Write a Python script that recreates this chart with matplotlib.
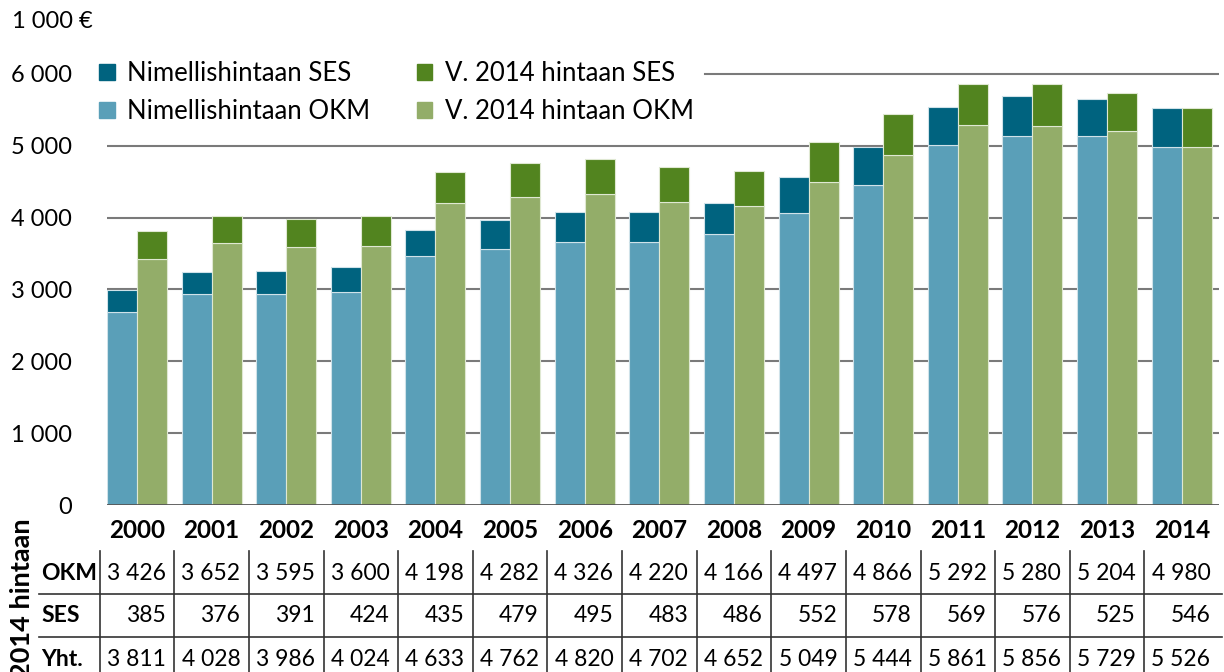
import matplotlib
matplotlib.use('Agg')
import matplotlib.pyplot as plt
import matplotlib.transforms as mtransforms
from matplotlib.patches import Patch
import numpy as np

plt.rcParams['font.family'] = ['Lato', 'DejaVu Sans']

years = [str(y) for y in range(2000, 2015)]
# nimellishintaan
nom_okm = [2683, 2937, 2937, 2965, 3466, 3564, 3661, 3661, 3768, 4065, 4455, 5012, 5141, 5141, 4980]
nom_ses = [310, 303, 316, 348, 358, 402, 422, 422, 436, 497, 533, 533, 557, 515, 546]
# v. 2014 hintaan (table)
real_okm = [3426, 3652, 3595, 3600, 4198, 4282, 4326, 4220, 4166, 4497, 4866, 5292, 5280, 5204, 4980]
real_ses = [385, 376, 391, 424, 435, 479, 495, 483, 486, 552, 578, 569, 576, 525, 546]
real_tot = [3811, 4028, 3986, 4024, 4633, 4762, 4820, 4702, 4652, 5049, 5444, 5861, 5856, 5729, 5526]

c_nom_ses = '#00637f'
c_nom_okm = '#5a9fb8'
c_real_ses = '#52841f'
c_real_okm = '#93ad69'

W, H = 1224, 672
fig = plt.figure(figsize=(W / 100, H / 100), dpi=100)
ax = fig.add_axes([107 / W, 167 / H, (1219 - 107) / W, (505 - 66.8) / H])

x = np.arange(len(years))
w = 0.402
ax.bar(x - w / 2, nom_okm, w, color=c_nom_okm, edgecolor='#cfe2e9', linewidth=0.8, zorder=2)
ax.bar(x - w / 2, nom_ses, w, bottom=nom_okm, color=c_nom_ses, edgecolor='#cfe2e9', linewidth=0.8, zorder=2)
ax.bar(x + w / 2, real_okm, w, color=c_real_okm, edgecolor='#dfe8d2', linewidth=0.8, zorder=2)
ax.bar(x + w / 2, real_ses, w, bottom=real_okm, color=c_real_ses, edgecolor='#dfe8d2', linewidth=0.8, zorder=2)

for v in range(1000, 6000, 1000):
    ax.axhline(v, color='#7a7a7a', lw=1.5, zorder=0)
ax.axhline(6000, xmin=(705 - 107) / (1219 - 107), color='#7a7a7a', lw=1.5, zorder=0)
ax.axhline(0, color='#555555', lw=2, zorder=3)

ax.set_xlim(-w, 14.5)
ax.set_ylim(0, 6100)
ax.set_xticks([])
ax.set_yticks(range(0, 7000, 1000))
ax.set_yticklabels([f"{v:,}".replace(",", " ") for v in range(0, 7000, 1000)], fontsize=17)
ax.tick_params(axis='y', length=0, pad=25)
for s in ax.spines.values():
    s.set_visible(False)

fig.text(12 / W, 1 - 22 / H, '1 000 €', fontsize=17, va='center', ha='left')

handles = [Patch(color=c_nom_ses), Patch(color=c_nom_okm), Patch(color=c_real_ses), Patch(color=c_real_okm)]
labels = ['Nimellishintaan SES', 'Nimellishintaan OKM', 'V. 2014 hintaan SES', 'V. 2014 hintaan OKM']
ax.legend(handles, labels, ncol=2, loc='upper left', bbox_to_anchor=(94 / W, 1 - 56 / H),
          bbox_transform=fig.transFigure, frameon=False, fontsize=18.5,
          handlelength=0.62, handleheight=0.62, handletextpad=0.47,
          columnspacing=1.8, labelspacing=0.5, borderpad=0.2, borderaxespad=0)

# table under the chart
trans = mtransforms.blended_transform_factory(ax.transData, fig.transFigure)
for i, y in enumerate(years):
    ax.text(i, 1 - 530 / H, y, transform=trans, ha='center', va='center', fontsize=17.5, fontweight='bold')

row_y = [574, 616, 659]
rows = [real_okm, real_ses, real_tot]
for lab, yy in zip(['OKM', 'SES', 'Yht.'], row_y):
    fig.text(41 / W, 1 - yy / H, lab, ha='left', va='center', fontsize=16.5, fontweight='bold')
for vals, yy in zip(rows, row_y):
    for i, v in enumerate(vals):
        ax.text(i + 0.385, 1 - yy / H, f"{v:,}".replace(",", " "), transform=trans,
                ha='right', va='center', fontsize=16.5)

for i in range(len(years)):
    ax.plot([i - 0.5, i - 0.5], [1 - 551 / H, 0], transform=trans, color='#333333', lw=1.2, clip_on=False)
for yy in [594, 637]:
    fig.add_artist(plt.Line2D([39 / W, 1222 / W], [1 - yy / H, 1 - yy / H], transform=fig.transFigure,
                              color='#333333', lw=1.2))

# rotated row-group label; cut by the bottom edge just like in the original
fig.text(22 / W, 1 - 518 / H, '2014 hintaan', rotation=90, ha='center', va='top', fontsize=19.5, fontweight='bold')

fig.savefig('out.png', dpi=100)
